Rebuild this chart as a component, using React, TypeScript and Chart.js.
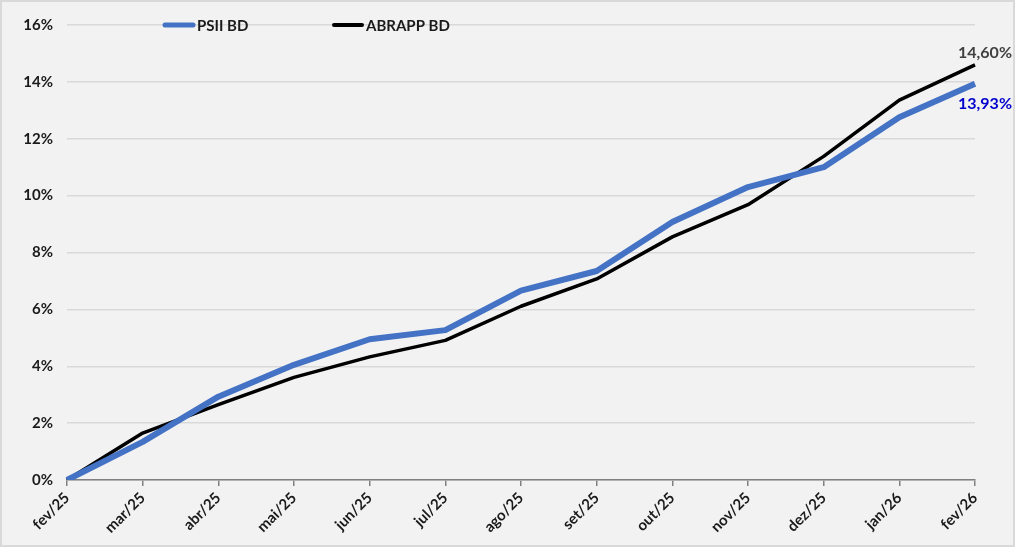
import React, { useEffect, useRef } from "react";
import { Chart, registerables } from "chart.js";

Chart.register(...registerables);

const categories = ["fev/25", "mar/25", "abr/25", "mai/25", "jun/25", "jul/25", "ago/25", "set/25", "out/25", "nov/25", "dez/25", "jan/26", "fev/26"];
const psiiValues = [0, 1.34, 2.93, 4.05, 4.95, 5.27, 6.66, 7.35, 9.07, 10.3, 11.0, 12.76, 13.93];
const abrappValues = [0, 1.65, 2.65, 3.61, 4.33, 4.91, 6.11, 7.07, 8.55, 9.68, 11.38, 13.36, 14.6];
const seriesNames = ["PSII BD", "ABRAPP BD"];
const endLabels = ["13,93%", "14,60%"];

const FONT = "Lato, 'Open Sans', sans-serif";

const customPlugin = {
  id: "customLegendAndLabels",
  afterDatasetsDraw(chart: any) {
    const ctx = chart.ctx as CanvasRenderingContext2D;
    const area = chart.chartArea;
    ctx.save();
    // legend
    const items = [
      { name: seriesNames[0], color: "#4472c4", width: 5, x: area.left + 96 },
      { name: seriesNames[1], color: "#000000", width: 4, x: area.left + 265 },
    ];
    const ly = area.top;
    ctx.font = `bold 15px ${FONT}`;
    ctx.textBaseline = "middle";
    ctx.textAlign = "left";
    for (const it of items) {
      ctx.strokeStyle = it.color;
      ctx.lineWidth = it.width;
      ctx.lineCap = "round";
      ctx.beginPath();
      ctx.moveTo(it.x + 2, ly);
      ctx.lineTo(it.x + 30, ly);
      ctx.stroke();
      ctx.fillStyle = "#1a1a1a";
      ctx.fillText(it.name, it.x + 34, ly + 1);
    }
    // end labels
    const metaB = chart.getDatasetMeta(0);
    const metaA = chart.getDatasetMeta(1);
    const pb = metaB.data[metaB.data.length - 1];
    const pa = metaA.data[metaA.data.length - 1];
    ctx.textAlign = "center";
    ctx.font = `bold 16px ${FONT}`;
    ctx.fillStyle = "#404040";
    ctx.fillText(endLabels[1], pa.x + 10, pa.y - 12);
    ctx.fillStyle = "#0000cc";
    ctx.fillText(endLabels[0], pb.x + 10, pb.y + 20);
    ctx.restore();
  },
};

export default function App() {
  const ref = useRef<HTMLCanvasElement>(null);
  useEffect(() => {
    if (!ref.current) return;
    const chart = new Chart(ref.current, {
      type: "line",
      data: {
        labels: categories,
        datasets: [
          {
            label: seriesNames[0],
            data: psiiValues,
            borderColor: "#4472c4",
            borderWidth: 6,
            pointRadius: 0,
            tension: 0,
            borderJoinStyle: "round",
          },
          {
            label: seriesNames[1],
            data: abrappValues,
            borderColor: "#000000",
            borderWidth: 3.5,
            pointRadius: 0,
            tension: 0,
            borderJoinStyle: "round",
          },
        ],
      },
      options: {
        responsive: false,
        animation: false,
        layout: { padding: { left: 0, top: 18, right: 38, bottom: 0 } },
        plugins: {
          legend: { display: false },
          tooltip: { enabled: false },
        },
        scales: {
          x: {
            type: "category",
            offset: false,
            grid: { drawOnChartArea: false, drawTicks: true, tickLength: 6, color: "#808080", lineWidth: 1.5 },
            border: { color: "#808080", width: 1.5 },
            ticks: {
              color: "#1a1a1a",
              font: { family: FONT, size: 15, weight: "bold" },
              maxRotation: 45,
              minRotation: 45,
              autoSkip: false,
              padding: 3,
            },
            afterFit: (s: any) => {
              s.height = 65;
            },
          },
          y: {
            min: 0,
            max: 16,
            ticks: {
              stepSize: 2,
              color: "#1a1a1a",
              font: { family: FONT, size: 15, weight: "bold" },
              padding: 14,
              callback: (v: any) => `${v}%`,
            },
            grid: { color: "#d9d9d9", lineWidth: 1.5, drawTicks: false },
            border: { display: false },
            afterFit: (s: any) => {
              s.width = 65;
            },
          },
        },
      },
      plugins: [customPlugin],
    });
    return () => chart.destroy();
  }, []);

  return (
    <div
      style={{
        position: "absolute",
        left: 0,
        top: 0,
        width: 1015,
        height: 547,
        boxSizing: "border-box",
        border: "2px solid #d9d9d9",
        background: "#f2f2f2",
      }}
    >
      <canvas ref={ref} width={1011} height={543} style={{ display: "block" }} />
    </div>
  );
}
